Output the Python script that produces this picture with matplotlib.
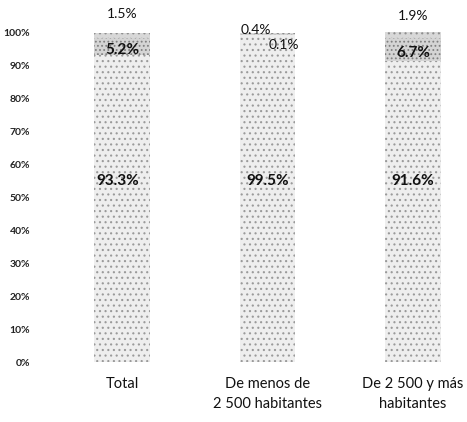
import matplotlib
matplotlib.use("Agg")
import matplotlib.pyplot as plt
import numpy as np

categories = ["Total", "De menos de\n2 500 habitantes", "De 2 500 y más\nhabitantes"]
bottom_vals = [93.3, 99.5, 91.6]
middle_vals = [5.2, 0.1, 6.7]
top_vals = [1.5, 0.4, 1.9]
yticks = [0, 10, 20, 30, 40, 50, 60, 70, 80, 90, 100]
ytick_labels = ["0%", "10%", "20%", "30%", "40%", "50%", "60%", "70%", "80%", "90%", "100%"]

plt.rcParams['font.family'] = ['Lato', 'DejaVu Sans']
plt.rcParams['hatch.linewidth'] = 0.8

fig = plt.figure(figsize=(4.67, 4.22), dpi=100)
ax = fig.add_axes([40/467, 60/422, 420/467, 340/422])

x = np.arange(len(categories))
w = 0.38
ax.bar(x, bottom_vals, w, color='#eeeeee', edgecolor='#9a9a9a', hatch='...', linewidth=0)
ax.bar(x, middle_vals, w, bottom=bottom_vals, color='#d4d4d4', edgecolor='#808080', hatch='....', linewidth=0)
ax.bar(x, top_vals, w, bottom=np.array(bottom_vals) + np.array(middle_vals),
       color='#d8d8d8', edgecolor='#909090', hatch='...', linewidth=0)

ax.set_xlim(-0.564, 2.323)
ax.set_ylim(0, 103.3)
ax.set_yticks(yticks)
ax.set_yticklabels(ytick_labels, fontsize=7.5, fontweight='bold', color='#222222')
ax.set_xticks(x)
ax.set_xticklabels(categories, fontsize=10.5, color='#111111', linespacing=1.55)
ax.tick_params(axis='both', length=0)
ax.tick_params(axis='y', pad=7)
ax.tick_params(axis='x', pad=11)
for s in ax.spines.values():
    s.set_visible(False)

# bottom labels
for i, v in enumerate(bottom_vals):
    ax.text(x[i] - (0.03 if i == 0 else 0), 55, f"{v}%", ha='center', va='center',
            fontsize=11, fontweight='bold', color='#111111')

# middle labels
mid_pos = [(x[0], bottom_vals[0] + middle_vals[0] / 2 - 1.2),
           (x[1] + 0.11, 96.2),
           (x[2], bottom_vals[2] + middle_vals[2] / 2 - 1.0)]
for i, v in enumerate(middle_vals):
    px, py = mid_pos[i]
    ax.text(px, py, f"{v}%", ha='center', va='center', fontsize=11 if i != 1 else 10,
            fontweight='bold' if i != 1 else 'normal', color='#111111')

# top labels
top_pos = [(x[0], 105.6), (x[1] - 0.08, 100.9), (x[2], 105.2)]
for i, v in enumerate(top_vals):
    px, py = top_pos[i]
    ax.text(px, py, f"{v}%", ha='center', va='center', fontsize=10, color='#111111', clip_on=False)

fig.savefig("out.png", dpi=100)
